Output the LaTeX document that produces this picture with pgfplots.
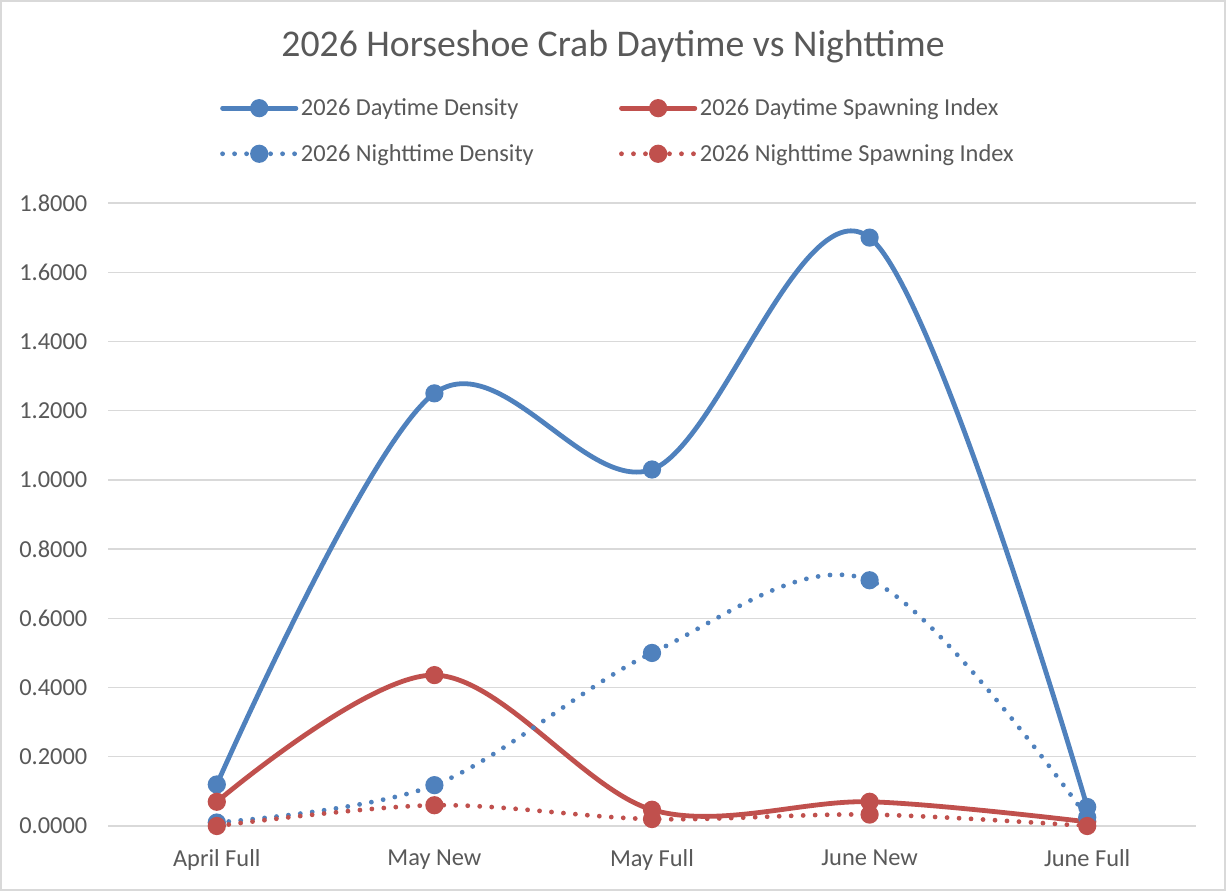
\documentclass[border=0pt]{standalone}
\usepackage{pgfplots}
\pgfplotsset{compat=1.18}
\usepackage{fontspec}
\setmainfont{Carlito}
\definecolor{xblue}{HTML}{4F81BD}
\definecolor{xred}{HTML}{C0504D}
\definecolor{xgrid}{HTML}{D9D9D9}
\definecolor{xtext}{HTML}{595959}
\begin{document}
\begin{tikzpicture}
\draw[draw=xgrid,line width=1.5pt,fill=white] (0.75pt,0.75pt) rectangle (918.75pt,667.5pt);
\node[text=xtext,font=\fontsize{28.3}{33}\selectfont] at (459.75pt,633pt) {2026 Horseshoe Crab Daytime vs Nighttime};
\begin{axis}[
  at={(81pt,48.75pt)}, anchor=south west,
  scale only axis, width=816pt, height=467.25pt,
  xmin=-0.5, xmax=4.5, ymin=0, ymax=1.8,
  xtick={0,1,2,3,4},
  xticklabels={April Full,May New,May Full,June New,June Full},
  ytick={0,0.2,...,1.8},
  tick style={draw=none},
  axis line style={draw=none},
  ymajorgrids, grid style={xgrid,line width=1pt},
  /pgf/number format/.cd, fixed, fixed zerofill, precision=4, assume math mode=true,
  /pgfplots/.cd,
  ticklabel style={font=\fontsize{18.3}{21}\selectfont, text=xtext},
  yticklabel style={xshift=-12pt},
  xticklabel style={yshift=-14.5pt},
  legend columns=2,
  legend style={draw=none, fill=none, at={(0.469,1.1156)}, anchor=center,
    font=\fontsize{18.3}{21}\selectfont, text=xtext,
    /tikz/every even column/.append style={column sep=62pt},
    row sep=16pt},
  legend cell align=left,
  legend image code/.code={\draw[#1] (0pt,0pt) -- (55pt,0pt); \draw[#1,solid] plot coordinates {(27.5pt,0pt)};},
  every axis plot/.append style={smooth, tension=0.55, line width=3.6pt, line cap=round,
    mark=*, mark size=5pt, mark options={solid}},
]
\addplot[color=xblue] coordinates {(0,0.12) (1,1.25) (2,1.03) (3,1.70) (4,0.055)};
\addlegendentry{2026 Daytime Density}
\addplot[color=xred] coordinates {(0,0.07) (1,0.436) (2,0.047) (3,0.07) (4,0.012)};
\addlegendentry{2026 Daytime Spawning Index}
\addplot[color=xblue, dash pattern=on 0pt off 9pt] coordinates {(0,0.01) (1,0.118) (2,0.50) (3,0.71) (4,0.025)};
\addlegendentry{2026 Nighttime Density}
\addplot[color=xred, dash pattern=on 0pt off 9pt] coordinates {(0,0.0) (1,0.06) (2,0.02) (3,0.033) (4,0.0)};
\addlegendentry{2026 Nighttime Spawning Index}
\end{axis}
\end{tikzpicture}
\end{document}
